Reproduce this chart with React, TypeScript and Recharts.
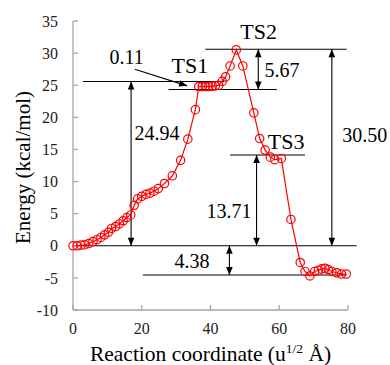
import { LineChart, Line, XAxis, YAxis, ReferenceLine, ReferenceDot } from "recharts";

// reaction coordinate (u^1/2 Å) and energy (kcal/mol) along the IRC path
const coord = [
  0, 1.2, 2.3, 3.4, 4.6, 5.8, 7.0, 8.1, 9.2, 10.3,
  11.2, 12.4, 13.5, 14.6, 15.6, 16.8, 17.8, 18.8, 20.0, 21.2,
  22.4, 23.6, 24.8, 26.6, 28.9, 31.3, 33.4, 35.6, 36.6, 37.6,
  38.5, 39.5, 40.5, 41.4, 42.4, 43.4, 44.4, 45.7, 47.5, 49.4,
  52.6, 54.3, 55.9, 57.4, 58.7, 60.6, 63.4, 66.1, 67.5, 68.9,
  70.3, 71.4, 72.4, 73.3, 74.3, 75.3, 76.7, 78.1, 79.5,
];
const energy = [
  0, 0, 0.1, 0.15, 0.35, 0.65, 0.95, 1.3, 1.7, 2.1,
  2.7, 3.0, 3.4, 3.9, 4.4, 4.8, 6.3, 7.3, 7.7, 8.0,
  8.2, 8.5, 8.9, 9.7, 10.9, 13.3, 16.6, 21.2, 24.8, 24.8,
  24.8, 24.8, 24.85, 24.9, 25.0, 25.6, 26.3, 28.0, 30.5, 28.0,
  20.7, 16.7, 14.9, 13.8, 13.4, 13.6, 4.1, -2.6, -4.0, -4.7,
  -4.0, -3.8, -3.6, -3.5, -3.7, -4.0, -4.2, -4.4, -4.4,
];
const xTicks = [0, 20, 40, 60, 80];
const yTicks = [-10, -5, 0, 5, 10, 15, 20, 25, 30, 35];

// energy levels: [from x, to x, energy]
const levels: [number, number, number][] = [
  [2.9, 44, 25.58],
  [27.8, 59.3, 24.33],
  [38.5, 79.6, 30.61],
  [45.7, 67.5, 14.13],
  [0, 82.5, 0],
  [20.3, 79.6, -4.55],
];
// double arrows: [x, from energy, to energy]
const gaps: [number, number, number][] = [
  [16.9, 0, 25.58],
  [53.9, 30.61, 24.33],
  [53.4, 0, 14.13],
  [75.3, 0, 30.61],
  [45.5, 0, -4.55],
];
// pointer arrow for the 0.11 gap
const pointer = [{ x: 18.0, y: 27.5 }, { x: 33.2, y: 24.9 }];
// text labels: [text, x, energy]
const tsLabels: [string, number, number][] = [
  ["TS1", 34.0, 28.0],
  ["TS2", 54.0, 33.3],
  ["TS3", 62.0, 16.2],
];
const gapLabels: [string, number, number][] = [
  ["0.11", 15.6, 29.4],
  ["5.67", 60.8, 27.3],
  ["30.50", 84.9, 17.25],
  ["13.71", 45.4, 5.46],
  ["4.38", 34.6, -2.37],
  ["24.94", 24.4, 17.56],
];

const data = coord.map((x, i) => ({ x, e: energy[i] }));

const FONT = "Liberation Serif, Tinos, DejaVu Serif, serif";
const RED = "#ff0000";
const AXIS = "#a6a6a6";

function Arrow(props: any) {
  const { x1, y1, x2, y2, heads } = props;
  const dx = x2 - x1;
  const dy = y2 - y1;
  const len = Math.hypot(dx, dy) || 1;
  const ux = dx / len;
  const uy = dy / len;
  const L = 8;
  const W = 3.3;
  const head = (tx: number, ty: number, sx: number, sy: number) => {
    const bx = tx - sx * L;
    const by = ty - sy * L;
    return `${tx},${ty} ${bx - sy * W},${by + sx * W} ${bx + sy * W},${by - sx * W}`;
  };
  return (
    <g>
      <line x1={x1} y1={y1} x2={x2} y2={y2} stroke="#000" strokeWidth={1.1} />
      <polygon points={head(x2, y2, ux, uy)} fill="#000" />
      {heads === "both" && <polygon points={head(x1, y1, -ux, -uy)} fill="#000" />}
    </g>
  );
}

function textShape(text: string, size: number) {
  return (p: any) => (
    <text
      x={p.cx}
      y={p.cy}
      textAnchor="middle"
      dominantBaseline="central"
      style={{ fontFamily: FONT, fontSize: size }}
      fill="#000"
    >
      {text}
    </text>
  );
}

function YTitle(props: any) {
  const vb = props.viewBox ?? { x: 0, y: 21, width: 73, height: 289 };
  const cx = vb.x + 23;
  const cy = vb.y + vb.height / 2 + 2;
  return (
    <text
      x={cx}
      y={cy}
      transform={`rotate(-90 ${cx} ${cy})`}
      textAnchor="middle"
      dominantBaseline="central"
      style={{ fontFamily: FONT, fontSize: 21 }}
      fill="#000"
    >
      Energy (kcal/mol)
    </text>
  );
}

function XTitle(props: any) {
  const vb = props.viewBox ?? { x: 73, y: 310, width: 275, height: 55 };
  return (
    <text
      x={vb.x + vb.width / 2}
      y={vb.y + 51}
      textAnchor="middle"
      style={{ fontFamily: FONT, fontSize: 21.5 }}
      fill="#000"
    >
      Reaction coordinate (u
      <tspan dy={-8} style={{ fontSize: 13.5 }}>1/2</tspan>
      <tspan dy={8}> Å)</tspan>
    </text>
  );
}

export default function App() {
  const tick = { fill: "#222", fontSize: 16, style: { fontFamily: FONT } };
  return (
    <div
      style={{
        position: "absolute",
        left: 0,
        top: 0,
        width: 390,
        height: 365,
        background: "#fff",
        fontFamily: FONT,
      }}
    >
      <LineChart
        width={390}
        height={365}
        data={data}
        margin={{ top: 21, right: 42, left: 0, bottom: 0 }}
        style={{ fontFamily: FONT }}
      >
        <XAxis
          dataKey="x"
          type="number"
          domain={[0, 80]}
          ticks={xTicks}
          height={55}
          tick={tick}
          tickSize={-5}
          tickMargin={18}
          axisLine={{ stroke: AXIS, strokeWidth: 1.3 }}
          tickLine={{ stroke: AXIS, strokeWidth: 1.3 }}
          label={(p: any) => <XTitle {...p} />}
        />
        <YAxis
          type="number"
          domain={[-10, 35]}
          ticks={yTicks}
          width={73}
          tick={tick}
          tickSize={-5}
          tickMargin={20}
          axisLine={{ stroke: AXIS, strokeWidth: 1.3 }}
          tickLine={{ stroke: AXIS, strokeWidth: 1.3 }}
          label={(p: any) => <YTitle {...p} />}
        />
        {levels.map(([a, b, y], i) => (
          <ReferenceLine
            key={`lv${i}`}
            segment={[{ x: a, y }, { x: b, y }]}
            ifOverflow="visible"
            stroke="#000"
            strokeWidth={1.1}
          />
        ))}
        {gaps.map(([x, y0, y1], i) => (
          <ReferenceLine
            key={`gp${i}`}
            segment={[{ x, y: y0 }, { x, y: y1 }]}
            ifOverflow="visible"
            shape={(p: any) => <Arrow {...p} heads="both" />}
          />
        ))}
        <ReferenceLine
          segment={pointer}
          ifOverflow="visible"
          shape={(p: any) => <Arrow {...p} heads="end" />}
        />
        <Line
          type="linear"
          dataKey="e"
          stroke={RED}
          strokeWidth={1.2}
          dot={{ r: 4.2, stroke: RED, strokeWidth: 1.2, fill: "none" }}
          isAnimationActive={false}
        />
        {tsLabels.map(([t, x, y]) => (
          <ReferenceDot key={t} x={x} y={y} r={0} ifOverflow="visible" shape={textShape(t, 22)} />
        ))}
        {gapLabels.map(([t, x, y]) => (
          <ReferenceDot key={t} x={x} y={y} r={0} ifOverflow="visible" shape={textShape(t, 20)} />
        ))}
      </LineChart>
    </div>
  );
}
